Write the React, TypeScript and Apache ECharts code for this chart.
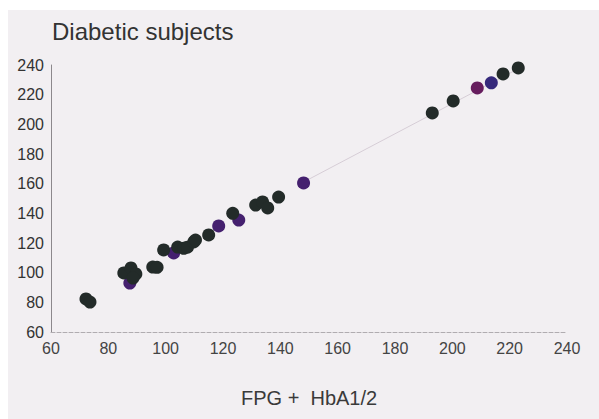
import React, { useEffect, useRef } from "react";
import * as echarts from "echarts";

const xTicks = [60, 80, 100, 120, 140, 160, 180, 200, 220, 240];
const yTicks = [60, 80, 100, 120, 140, 160, 180, 200, 220, 240];

const darkPoints: [number, number][] = [
  [72.2, 82.3], [73.6, 80.2],
  [85.4, 99.8], [87.9, 103.2], [89.6, 99.1], [88.6, 96.4],
  [95.5, 103.8], [97.0, 103.6],
  [99.3, 115.3], [104.2, 117.3], [106.3, 116.4], [107.6, 117.2], [109.8, 120.7], [110.4, 122.0],
  [115.0, 125.4], [123.4, 140.0],
  [131.4, 145.6], [133.8, 147.7], [135.6, 143.6], [139.4, 151.0],
  [193.0, 207.7], [200.3, 215.8], [217.7, 234.0], [223.0, 238.0],
];
const purplePoints: [number, number][] = [
  [87.5, 93.0], [102.8, 113.3], [118.5, 131.5], [125.5, 135.5], [148.1, 160.5],
];
const magentaPoints: [number, number][] = [[208.7, 224.5]];
const bluePoints: [number, number][] = [[213.6, 228.0]];
const trendLine: [number, number][] = [[148, 161], [224, 238.5]];

export default function App() {
  const ref = useRef<HTMLDivElement>(null);
  useEffect(() => {
    if (!ref.current) return;
    const chart = echarts.init(ref.current, null, { renderer: "svg" });
    const font = "'Liberation Sans', Arial, sans-serif";
    chart.setOption({
      animation: false,
      backgroundColor: "#ffffff",
      textStyle: { fontFamily: font },
      graphic: [
        {
          type: "rect",
          z: -10,
          silent: true,
          shape: { x: 8, y: 10, width: 591, height: 409 },
          style: { fill: "#f2eff2" },
        },
        {
          type: "text",
          left: 52,
          top: 19,
          style: { text: "Diabetic subjects", font: `24px ${font}`, fill: "#333333" },
        },
        {
          type: "text",
          left: 241,
          top: 388,
          style: { text: "FPG +  HbA1/2", font: `20px ${font}`, fill: "#3a3a3a" },
        },
      ],
      grid: { left: 51, right: 32, top: 65, bottom: 87 },
      xAxis: {
        type: "value",
        min: xTicks[0],
        max: xTicks[xTicks.length - 1],
        interval: 20,
        axisLine: { show: true, lineStyle: { color: "#b0acb0", type: "dashed", width: 1 } },
        axisTick: { show: false },
        splitLine: { show: false },
        axisLabel: { color: "#444444", fontSize: 16, margin: 8, fontFamily: font },
      },
      yAxis: {
        type: "value",
        min: yTicks[0],
        max: yTicks[yTicks.length - 1],
        interval: 20,
        axisLine: { show: true, lineStyle: { color: "#8c888c", width: 1 } },
        axisTick: { show: false },
        splitLine: { show: false },
        axisLabel: { color: "#333333", fontSize: 16, margin: 7, fontFamily: font },
      },
      series: [
        {
          type: "line",
          data: trendLine,
          symbol: "none",
          lineStyle: { color: "#d6cdd6", width: 1 },
          z: 1,
        },
        {
          type: "scatter",
          data: purplePoints,
          symbolSize: 13,
          itemStyle: { color: "#45206f", opacity: 1 },
          z: 2,
        },
        {
          type: "scatter",
          data: darkPoints,
          symbolSize: 13,
          itemStyle: { color: "#232b29", opacity: 1 },
          z: 3,
        },
        {
          type: "scatter",
          data: magentaPoints,
          symbolSize: 13,
          itemStyle: { color: "#661d5e", opacity: 1 },
          z: 3,
        },
        {
          type: "scatter",
          data: bluePoints,
          symbolSize: 13,
          itemStyle: { color: "#36297c", opacity: 1 },
          z: 3,
        },
      ],
    });
    return () => chart.dispose();
  }, []);
  return (
    <div
      ref={ref}
      style={{ position: "fixed", left: 0, top: 0, width: 599, height: 419 }}
    />
  );
}
